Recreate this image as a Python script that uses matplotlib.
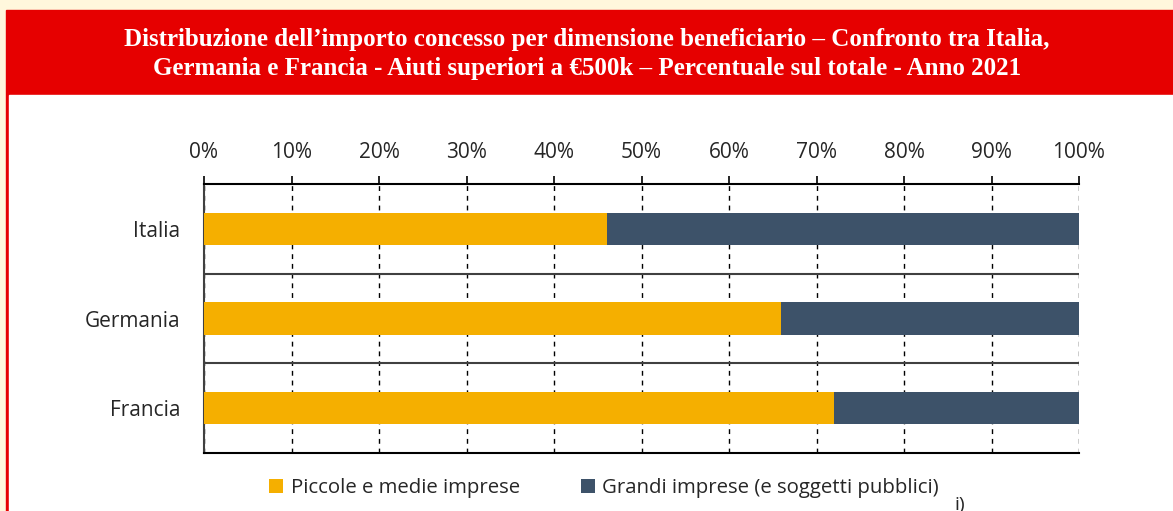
import matplotlib.pyplot as plt
from matplotlib.patches import Rectangle
from matplotlib.ticker import FuncFormatter, MultipleLocator

# Quota percentuale dell'importo concesso, aiuti > 500k, anno 2021
paesi = ['Italia', 'Germania', 'Francia']
pmi = [46.1, 65.9, 72.0]
grandi = [53.9, 34.1, 28.0]
serie = ['Piccole e medie imprese', 'Grandi imprese (e soggetti pubblici)']
titolo = ("Distribuzione dell\u2019importo concesso per dimensione beneficiario \u2013 Confronto tra Italia,\n"
          "Germania e Francia - Aiuti superiori a \u20ac500k \u2013 Percentuale sul totale - Anno 2021")

ARANCIO = '#F5AF00'
BLU = '#3D5269'
ROSSO = '#E60000'
CREMA = '#FFF7DC'

W, H = 1173, 511


def px(x, y):
    # pixel (from top-left) -> figure fraction
    return x / W, 1 - y / H


def do_plot():
    plt.rcParams['font.family'] = ['Open Sans', 'DejaVu Sans']
    fig = plt.figure(figsize=(W / 100, H / 100), dpi=100, facecolor=CREMA)

    # cornice rossa e area bianca
    fig.patches.append(Rectangle(px(6, H), (W - 6) / W, (H - 10) / H,
                                 transform=fig.transFigure, color=ROSSO, zorder=-2))
    fig.patches.append(Rectangle(px(9, H), (W - 9) / W, (H - 95) / H,
                                 transform=fig.transFigure, color='white', zorder=-1))

    fig.text(*px(587, 54), titolo, ha='center', va='center', color='white',
             fontsize=18, fontweight='bold', family=['Liberation Serif', 'DejaVu Serif'],
             linespacing=1.35)

    l, t = px(204, 184)
    r, b = px(1079, 453)
    ax = fig.add_axes([l, b, r - l, t - b])
    ax.set_zorder(2)
    ax.set_facecolor('white')

    y = range(len(paesi))
    ax.barh(y, pmi, height=0.36, color=ARANCIO, label=serie[0], zorder=3)
    ax.barh(y, grandi, left=pmi, height=0.36, color=BLU, label=serie[1], zorder=3)

    ax.set_xlim(0, 100)
    ax.set_ylim(2.5, -0.5)
    ax.xaxis.set_major_locator(MultipleLocator(10))
    ax.xaxis.set_major_formatter(FuncFormatter(lambda v, p: '%d%%' % v))
    ax.xaxis.tick_top()
    ax.tick_params(axis='x', direction='out', length=6, width=1.2, color='black',
                   labelsize=15, pad=9, labelcolor='#262626')
    ax.set_yticks(list(y))
    ax.set_yticklabels(paesi)
    ax.tick_params(axis='y', length=0, labelsize=15, pad=17, labelcolor='#262626')

    ax.grid(axis='x', color='black', linestyle=(0, (3.5, 3.5)), linewidth=1.0, zorder=1)
    for sep in [0.5, 1.5]:
        ax.axhline(sep, color='#404040', linewidth=1.5, zorder=2)

    ax.spines['right'].set_visible(False)
    ax.spines['top'].set_linewidth(1.5)
    ax.spines['bottom'].set_linewidth(1.5)
    ax.spines['left'].set_color('#404040')
    ax.spines['left'].set_linewidth(1.5)

    handles, labels = ax.get_legend_handles_labels()
    fig.legend(handles, labels, loc='center', bbox_to_anchor=px(604, 488), ncol=2,
               frameon=False, fontsize=14.7, handlelength=0.7, handleheight=0.7,
               handletextpad=0.35, columnspacing=3.0, labelcolor='#262626')

    # testo troncato in fondo, come nell'originale
    fig.text(*px(955, 496), 'i)', ha='left', va='top', fontsize=14, color='#262626')

    plt.savefig('out.png', dpi=100, facecolor=CREMA)


if __name__ == '__main__':
    do_plot()
